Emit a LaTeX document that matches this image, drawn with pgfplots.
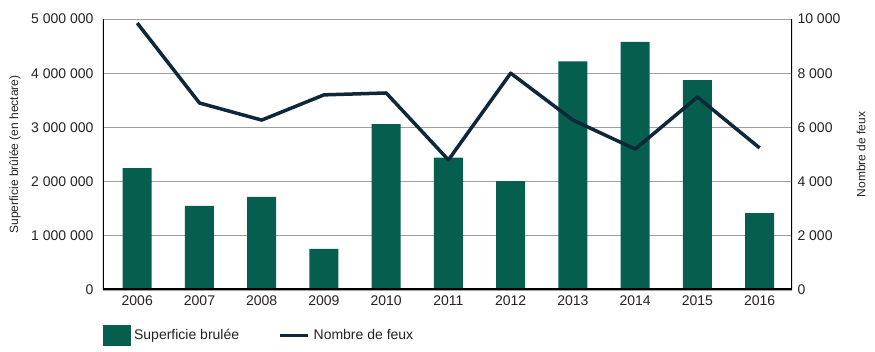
\documentclass[border=0pt]{standalone}
\usepackage{fontspec}
\setmainfont{Liberation Sans}
\usepackage{pgfplots}
\pgfplotsset{compat=1.18}
\usetikzlibrary{calc}
\definecolor{barg}{RGB}{5,94,78}
\definecolor{linec}{RGB}{14,40,58}
\definecolor{txt}{RGB}{35,35,35}
\begin{document}
\begin{tikzpicture}
\begin{axis}[
  scale only axis, width=689pt, height=271pt,
  xmin=-0.55, xmax=10.52, ymin=0, ymax=5000000,
  scaled y ticks=false,
  axis line style={draw=none},
  major tick length=0pt,
  xtick={0,...,10},
  xticklabels={2006,2007,2008,2009,2010,2011,2012,2013,2014,2015,2016},
  ytick={0,1000000,2000000,3000000,4000000,5000000},
  yticklabels={0,1 000 000,2 000 000,3 000 000,4 000 000,5 000 000},
  ymajorgrids, grid style={gray!75, line width=0.9pt},
  yticklabel style={font=\fontsize{14}{16}\selectfont, text=txt, anchor=east, xshift=-6pt},
  xticklabel style={font=\fontsize{14}{16}\selectfont, text=txt, yshift=-2pt},
  ylabel={Superficie brûlée (en hectare)},
  ylabel style={at={(rel axis cs:0,0.5)}, anchor=center, yshift=88pt, text=txt, font=\fontsize{12}{14}\selectfont},
  legend columns=2,
  legend style={at={(rel axis cs:0,0)}, anchor=north west, yshift=-35pt, draw=none, inner sep=0pt,
    font=\fontsize{14}{16}\selectfont, text=txt, cells={anchor=west}, nodes={inner xsep=3.5pt},
    /tikz/every even column/.append style={column sep=36pt}},
]
\addplot[ybar, bar width=29pt, fill=barg, draw=none, forget plot] coordinates {
(0,2250000) (1,1550000) (2,1720000) (3,760000) (4,3060000) (5,2440000)
(6,2010000) (7,4220000) (8,4580000) (9,3870000) (10,1420000)};
\addlegendimage{legend image code/.code={\fill[barg] (0pt,-10pt) rectangle (27pt,10pt);}}
\addlegendentry{Superficie brulée}
\addlegendimage{legend image code/.code={\draw[linec, line width=3.5pt] (0pt,0pt) -- (28pt,0pt);}}
\addlegendentry{Nombre de feux}
\draw[black, line width=2pt] (rel axis cs:0,0) -- (rel axis cs:0,1);
\draw[black, line width=2pt] (rel axis cs:1,0) -- (rel axis cs:1,1);
\draw[black, line width=3pt] (rel axis cs:0,0) -- (rel axis cs:1,0);
\coordinate (sw) at (rel axis cs:0,0);
\coordinate (ne) at (rel axis cs:1,1);
\end{axis}
\begin{axis}[
  scale only axis, width=689pt, height=271pt,
  xmin=-0.55, xmax=10.52, ymin=0, ymax=10000,
  scaled y ticks=false,
  axis y line*=right, axis x line=none,
  axis line style={draw=none},
  major tick length=0pt,
  ytick={0,2000,4000,6000,8000,10000},
  yticklabels={0,2 000,4 000,6 000,8 000,10 000},
  yticklabel style={font=\fontsize{14}{16}\selectfont, text=txt, anchor=west, xshift=2pt},
  ylabel={Nombre de feux},
  ylabel style={at={(rel axis cs:1,0.5)}, anchor=center, yshift=-69pt, text=txt, font=\fontsize{12}{14}\selectfont},
]
\addplot[linec, line width=3.5pt, line join=round, no marks] coordinates {
(0,9850) (1,6900) (2,6270) (3,7200) (4,7270) (5,4800)
(6,8000) (7,6270) (8,5200) (9,7120) (10,5240)};
\end{axis}
\pgfresetboundingbox
\path (sw) ++(-103pt,-62pt) rectangle ($(ne)+(83pt,19pt)$);
\end{tikzpicture}
\end{document}
